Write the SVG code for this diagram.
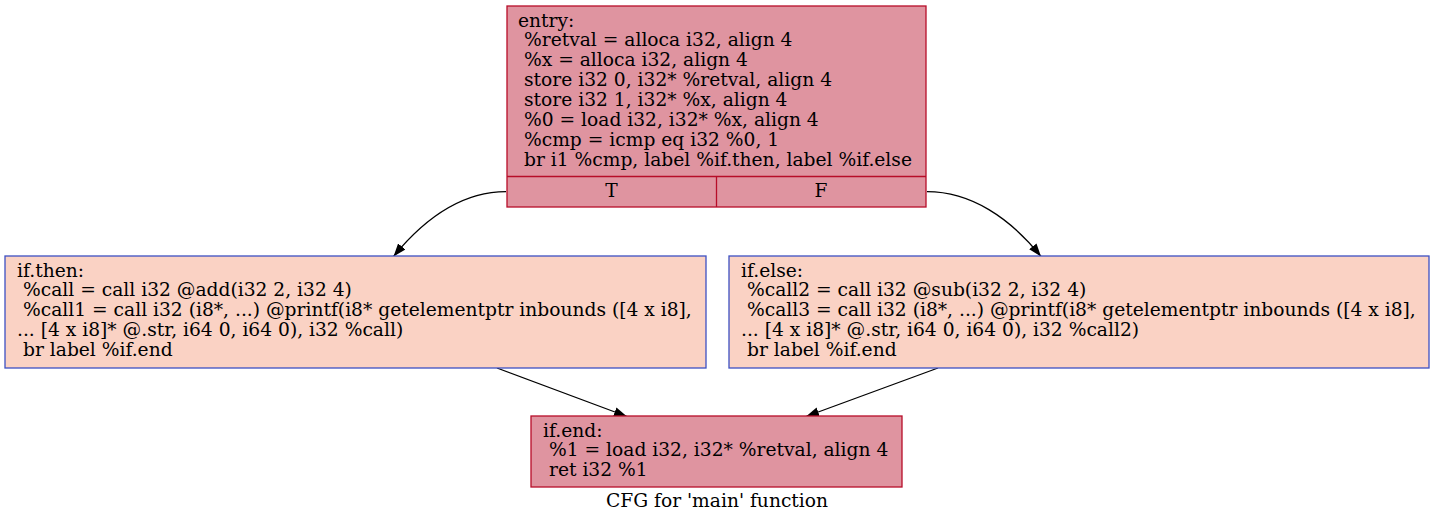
<svg xmlns="http://www.w3.org/2000/svg" width="1435" height="524" viewBox="0 0 1435 524">
<defs>
<style>
.hot{fill:#df94a0;stroke:#b70d28;stroke-width:1.3}
.cool{fill:#fad2c4;stroke:#3d50c3;stroke-width:1.3}
.d{font-family:"DejaVu Serif",serif;font-size:18.67px;fill:#000}
.e{fill:none;stroke:#000;stroke-width:1.3}
</style>
<marker id="ah" viewBox="0 0 13 10" refX="13" refY="5" markerWidth="13" markerHeight="10" markerUnits="userSpaceOnUse" orient="auto">
<path d="M0,0.3 L13,5 L0,9.7 Z" fill="#000"/>
</marker>
</defs>
<rect width="1435" height="524" fill="#fff"/>
<g id="connectors">
<path class="e" d="M506,191.7 C462,191.7 425,218 393.5,256.5" marker-end="url(#ah)"/>
<path class="e" d="M927,191.7 C971,191.7 1010,218 1041,256.5" marker-end="url(#ah)"/>
<path class="e" d="M497,368 L627,416.5" marker-end="url(#ah)"/>
<path class="e" d="M938,368 L806,416.5" marker-end="url(#ah)"/>
</g>
<g id="entry">
<rect class="hot" x="507" y="6" width="419" height="201"/>
<line class="hot" x1="507" y1="176.5" x2="926" y2="176.5"/>
<line class="hot" x1="716.5" y1="176.5" x2="716.5" y2="207"/>
<text class="d" x="518" y="26.5">entry:</text>
<text class="d" x="524" y="46.4">%retval = alloca i32, align 4</text>
<text class="d" x="524" y="66.3">%x = alloca i32, align 4</text>
<text class="d" x="524" y="86.2">store i32 0, i32* %retval, align 4</text>
<text class="d" x="524" y="106.1">store i32 1, i32* %x, align 4</text>
<text class="d" x="524" y="126">%0 = load i32, i32* %x, align 4</text>
<text class="d" x="524" y="145.9">%cmp = icmp eq i32 %0, 1</text>
<text class="d" x="524" y="165.8">br i1 %cmp, label %if.then, label %if.else</text>
<text class="d" x="611.5" y="197" text-anchor="middle">T</text>
<text class="d" x="821" y="197" text-anchor="middle">F</text>
</g>
<g id="if.then">
<rect class="cool" x="5" y="256" width="701" height="112"/>
<text class="d" x="17" y="276.5">if.then:</text>
<text class="d" x="23" y="296.3">%call = call i32 @add(i32 2, i32 4)</text>
<text class="d" x="23" y="316.2">%call1 = call i32 (i8*, ...) @printf(i8* getelementptr inbounds ([4 x i8],</text>
<text class="d" x="17" y="336">... [4 x i8]* @.str, i64 0, i64 0), i32 %call)</text>
<text class="d" x="23" y="355.9">br label %if.end</text>
</g>
<g id="if.else">
<rect class="cool" x="729" y="256" width="700" height="112"/>
<text class="d" x="741" y="276.5">if.else:</text>
<text class="d" x="747" y="296.3">%call2 = call i32 @sub(i32 2, i32 4)</text>
<text class="d" x="747" y="316.2">%call3 = call i32 (i8*, ...) @printf(i8* getelementptr inbounds ([4 x i8],</text>
<text class="d" x="741" y="336">... [4 x i8]* @.str, i64 0, i64 0), i32 %call2)</text>
<text class="d" x="747" y="355.9">br label %if.end</text>
</g>
<g id="if.end">
<rect class="hot" x="531" y="416" width="371" height="71"/>
<text class="d" x="543" y="436.7">if.end:</text>
<text class="d" x="549" y="455.7">%1 = load i32, i32* %retval, align 4</text>
<text class="d" x="549" y="475.7">ret i32 %1</text>
</g>
<text class="d" x="717" y="507" text-anchor="middle">CFG for 'main' function</text>
</svg>
